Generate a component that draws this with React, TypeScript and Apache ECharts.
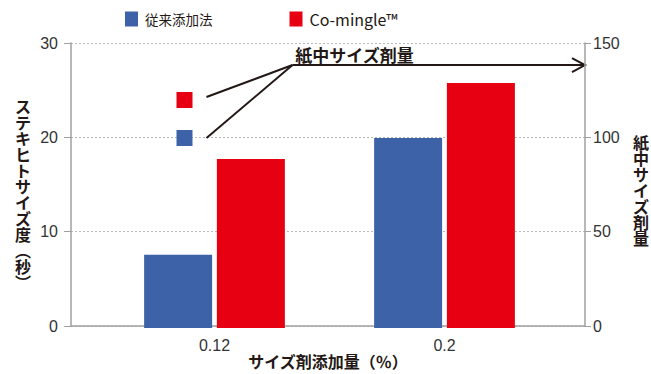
import React, { useEffect, useRef } from "react";
import * as echarts from "echarts";

// Sizing agent addition rate (%)
const categories = ["0.12", "0.2"];
// Stöckigt sizing degree (seconds)
const conventionalValues = [7.7, 20.0];
const cominglValues = [17.8, 25.8];
// Sizing agent content in paper (right axis), shown for the 0.12 group
const paperSizingConventional = 100;
const paperSizingComingle = 120;
// Level on the right axis where the callout arrow runs
const calloutLevel = 138.4;

const leftTicks = { min: 0, max: 30, interval: 10 };
const rightTicks = { min: 0, max: 150, interval: 50 };

const seriesNames = ["従来添加法", "Co-mingle™"];
const leftAxisTitle = "ステキヒトサイズ度︵秒︶";
const rightAxisTitle = "紙中サイズ剤量";
const xAxisTitle = "サイズ剤添加量（％）";

const BLUE = "#3e62a8";
const RED = "#e60012";
const INK = "#231815";
const AXIS_GRAY = "#a0a0a0";
const NUM_FONT = "'Liberation Sans Narrow', 'Liberation Sans', sans-serif";
const JP_FONT = "'Noto Sans CJK JP', 'Noto Sans', sans-serif";

const W = 651;
const H = 374;
// outer frame (axes and grid lines)
const FRAME = { left: 71, right: W - 585, top: 43, bottom: H - 328 };
// inner frame where the bar groups sit
const BARS = { left: 99.5, right: W - 559.5, top: 43, bottom: H - 328 };

const vertical = (s: string) => Array.from(s).join("\n");

export default function App() {
  const ref = useRef<HTMLDivElement>(null);

  useEffect(() => {
    if (!ref.current) return;
    const chart = echarts.init(ref.current, null, { renderer: "svg" });

    const hiddenAxis = { show: false };

    chart.setOption({
      animation: false,
      textStyle: { fontFamily: JP_FONT },
      legend: {
        data: seriesNames,
        left: 120,
        top: 6,
        icon: "rect",
        itemWidth: 13,
        itemHeight: 15,
        itemGap: 77,
        formatter: (name: string) => (name === seriesNames[0] ? `{jp|${name}}` : `{en|${name}}`),
        textStyle: {
          color: INK,
          fontFamily: JP_FONT,
          rich: {
            jp: { fontSize: 13.5, color: INK, fontFamily: JP_FONT, padding: [0, 0, 0, 2] },
            en: { fontSize: 16, color: INK, fontFamily: JP_FONT, padding: [0, 0, 0, 2] },
          },
        },
      },
      grid: [
        { ...FRAME, containLabel: false },
        { ...BARS, containLabel: false },
      ],
      xAxis: [
        {
          type: "category",
          gridIndex: 0,
          data: categories,
          axisLine: { show: true, lineStyle: { color: AXIS_GRAY, width: 1.5 } },
          axisTick: { show: false },
          axisLabel: { show: false },
          splitLine: { show: false },
          name: xAxisTitle,
          nameLocation: "middle",
          nameGap: 27,
          nameTextStyle: { fontSize: 16, fontWeight: "bold", color: INK, fontFamily: JP_FONT },
        },
        {
          type: "category",
          gridIndex: 1,
          data: categories,
          axisLine: { show: false },
          axisTick: { show: false },
          axisLabel: { fontSize: 16, color: "#333", fontFamily: NUM_FONT, margin: 9 },
          splitLine: { show: false },
        },
      ],
      yAxis: [
        {
          type: "value",
          gridIndex: 0,
          position: "left",
          ...leftTicks,
          axisLine: { show: true, lineStyle: { color: AXIS_GRAY, width: 1.5 } },
          axisTick: { show: true, length: 7, lineStyle: { color: AXIS_GRAY } },
          axisLabel: { fontSize: 16, color: "#333", fontFamily: NUM_FONT, margin: 13 },
          splitLine: { show: true, lineStyle: { color: "#b8b8b8", type: [2, 2], width: 1 } },
        },
        {
          type: "value",
          gridIndex: 0,
          position: "right",
          ...rightTicks,
          axisLine: { show: true, lineStyle: { color: AXIS_GRAY, width: 1.5 } },
          axisTick: { show: true, length: 6, lineStyle: { color: AXIS_GRAY } },
          axisLabel: { fontSize: 16, color: "#333", fontFamily: NUM_FONT, margin: 8 },
          splitLine: { show: false },
        },
        { type: "value", gridIndex: 1, ...leftTicks, ...hiddenAxis },
        { type: "value", gridIndex: 1, ...rightTicks, ...hiddenAxis },
      ],
      series: [
        {
          name: seriesNames[0],
          type: "bar",
          xAxisIndex: 1,
          yAxisIndex: 2,
          data: conventionalValues,
          barWidth: 68,
          barGap: "7%",
          itemStyle: { color: BLUE },
        },
        {
          name: seriesNames[1],
          type: "bar",
          xAxisIndex: 1,
          yAxisIndex: 2,
          data: cominglValues,
          barWidth: 68,
          barGap: "7%",
          itemStyle: { color: RED },
        },
        {
          name: `${rightAxisTitle}・${seriesNames[0]}`,
          type: "scatter",
          xAxisIndex: 1,
          yAxisIndex: 3,
          data: [[0, paperSizingConventional]],
          symbol: "rect",
          symbolSize: 16,
          symbolOffset: [-30, 0],
          itemStyle: { color: BLUE, opacity: 1 },
        },
        {
          name: `${rightAxisTitle}・${seriesNames[1]}`,
          type: "scatter",
          xAxisIndex: 1,
          yAxisIndex: 3,
          data: [[0, paperSizingComingle]],
          symbol: "rect",
          symbolSize: 16,
          symbolOffset: [-30, 0],
          itemStyle: { color: RED, opacity: 1 },
        },
      ],
    });

    // Callout: leader lines from the two squares join and run as an arrow to the right axis
    const toPx = (v: number) =>
      chart.convertToPixel({ xAxisIndex: 1, yAxisIndex: 3 }, [0, v]) as number[];
    const pConv = toPx(paperSizingConventional);
    const pComi = toPx(paperSizingComingle);
    const pLevel = toPx(calloutLevel);
    const startX = pConv[0] - 30 + 8 + 14;
    const joinX = pConv[0] + 78;
    const joinY = pLevel[1];
    const axisX = W - FRAME.right;
    const stroke = { stroke: INK, lineWidth: 2, fill: null };
    const plotMidY = (FRAME.top + (H - FRAME.bottom)) / 2;

    // Upright, top-to-bottom axis titles
    const titleStyle = (text: string) => ({
      text: vertical(text),
      fontSize: 16,
      lineHeight: 16,
      fontWeight: "bold",
      fontFamily: JP_FONT,
      fill: INK,
      align: "center",
      verticalAlign: "middle",
    });

    chart.setOption({
      graphic: [
        { type: "polyline", shape: { points: [[startX, pComi[1] - 3], [joinX, joinY]] }, style: stroke },
        { type: "polyline", shape: { points: [[startX, pConv[1]], [joinX, joinY]] }, style: stroke },
        { type: "polyline", shape: { points: [[joinX, joinY], [axisX, joinY]] }, style: stroke },
        {
          type: "polyline",
          shape: { points: [[axisX - 13, joinY - 7], [axisX, joinY], [axisX - 13, joinY + 7]] },
          style: stroke,
        },
        {
          type: "text",
          x: joinX + 62,
          y: joinY - 10.5,
          style: {
            text: rightAxisTitle,
            fontSize: 17,
            fontWeight: "bold",
            fontFamily: JP_FONT,
            fill: INK,
            align: "center",
            verticalAlign: "middle",
          },
        },
        { type: "text", x: 23, y: plotMidY + 8, style: titleStyle(leftAxisTitle) },
        { type: "text", x: 641, y: plotMidY + 4, style: titleStyle(rightAxisTitle) },
      ],
    });

    return () => chart.dispose();
  }, []);

  return (
    <div
      ref={ref}
      style={{ position: "absolute", left: 0, top: 0, width: W, height: H }}
    />
  );
}
